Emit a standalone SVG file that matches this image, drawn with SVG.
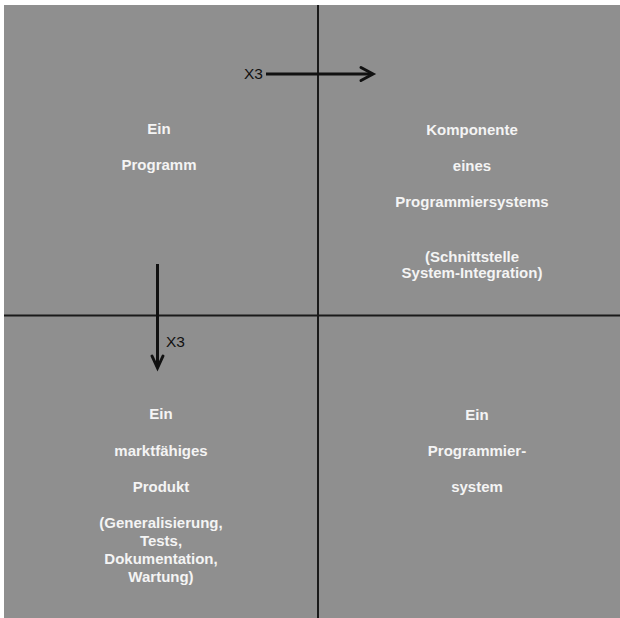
<svg xmlns="http://www.w3.org/2000/svg" width="620" height="618" viewBox="0 0 620 618">
<style>
.t{font-family:"Liberation Sans",Arial,sans-serif;font-weight:bold;font-size:15px;fill:#f4f4f4;text-anchor:middle}
.x{font-family:"Liberation Sans",Arial,sans-serif;font-size:15.5px;fill:#111}
.grid{stroke:#1a1a1a;stroke-width:2;fill:none}
.arr{stroke:#111;stroke-width:3;fill:none}
.head{stroke:#111;stroke-width:3;fill:none;stroke-linecap:round;stroke-linejoin:miter}
</style>
<rect x="0" y="0" width="620" height="618" fill="#ffffff"/>
<rect x="4" y="5" width="616" height="613" fill="#8f8f8f"/>
<g id="grid">
<line class="grid" x1="318" y1="5" x2="318" y2="618"/>
<line class="grid" x1="4" y1="315.5" x2="620" y2="315.5"/>
</g>
<g id="connectors">
<line class="arr" x1="266" y1="74" x2="372" y2="74"/>
<polyline class="head" points="361,67.5 373,74 361,80.5"/>
<text class="x" x="244" y="79">X3</text>
<line class="arr" x1="157.5" y1="264" x2="157.5" y2="367"/>
<polyline class="head" points="152,356 157.5,368 163,356"/>
<text class="x" x="166" y="346.5">X3</text>
</g>
<g id="programm">
<text class="t" x="159" y="134">Ein</text>
<text class="t" x="159" y="170">Programm</text>
</g>
<g id="komponente">
<text class="t" x="472" y="135">Komponente</text>
<text class="t" x="472" y="171">eines</text>
<text class="t" x="472" y="207">Programmiersystems</text>
<text class="t" x="472" y="262">(Schnittstelle</text>
<text class="t" x="472" y="278">System-Integration)</text>
</g>
<g id="produkt">
<text class="t" x="161" y="419">Ein</text>
<text class="t" x="161" y="456">marktfähiges</text>
<text class="t" x="161" y="492">Produkt</text>
<text class="t" x="161" y="528">(Generalisierung,</text>
<text class="t" x="161" y="546">Tests,</text>
<text class="t" x="161" y="564">Dokumentation,</text>
<text class="t" x="161" y="582">Wartung)</text>
</g>
<g id="programmiersystem">
<text class="t" x="477" y="420">Ein</text>
<text class="t" x="477" y="456">Programmier-</text>
<text class="t" x="477" y="492">system</text>
</g>
</svg>
